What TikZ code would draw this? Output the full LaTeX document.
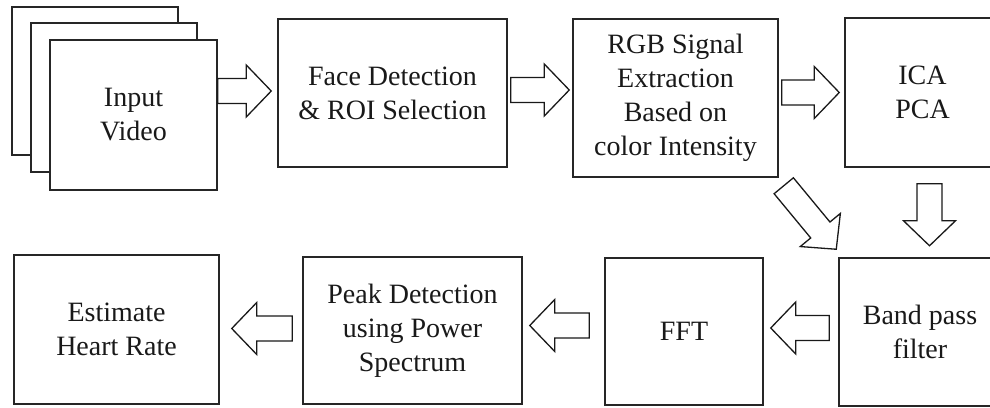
\documentclass[tikz,border=0pt]{standalone}
\usepackage{fontspec}
\setmainfont{Liberation Serif}
\usetikzlibrary{calc}
\tikzset{
  box/.style={draw=black!85, line width=1.5pt, fill=white, inner sep=0pt, align=center,
    font=\fontsize{28}{34}\selectfont, text=black!90},
  barrow/.style={draw=black!90, line width=1.3pt, fill=white, line join=miter},
}
\newcommand\blockarr[2]{%
  \coordinate (ba-s) at #1;
  \coordinate (ba-t) at #2;
  \coordinate (ba-h) at ($(ba-t)!25pt!(ba-s)$);
  \draw[barrow] ($(ba-s)!12.5pt!90:(ba-t)$) -- ($(ba-h)!12.5pt!-90:(ba-s)$)
    -- ($(ba-h)!26pt!-90:(ba-s)$) -- (ba-t) -- ($(ba-h)!26pt!90:(ba-s)$)
    -- ($(ba-h)!12.5pt!90:(ba-s)$) -- ($(ba-s)!12.5pt!-90:(ba-t)$) -- cycle;
}
\begin{document}
\begin{tikzpicture}[x=1pt,y=-1pt]
\useasboundingbox (0,0) rectangle (990,407);
\clip (0,0) rectangle (990,407);
% input video stack
\node[box, minimum width=166pt, minimum height=148pt] (in3) at (95,81) {};
\node[box, minimum width=166pt, minimum height=149pt] (in2) at (114,97.5) {};
\node[box, minimum width=167pt, minimum height=150pt] (in1) at (133.5,115) {Input\\Video};
% top row
\node[box, minimum width=229pt, minimum height=148pt] (face) at (392.5,93) {Face Detection\\\& ROI Selection};
\node[box, minimum width=205pt, minimum height=158pt] (rgb) at (675.5,98) {RGB Signal\\Extraction\\Based on\\color Intensity};
\node[box, minimum width=155pt, minimum height=149pt] (ica) at (922.5,92.5) {ICA\\PCA};
% bottom row
\node[box, minimum width=162pt, minimum height=148pt] (band) at (920,332) {Band pass\\filter};
\node[box, minimum width=158pt, minimum height=147pt] (fft) at (684,331.5) {FFT};
\node[box, minimum width=219pt, minimum height=147pt] (peak) at (412.5,330.5) {Peak Detection\\using Power\\Spectrum};
\node[box, minimum width=205pt, minimum height=149pt] (est) at (116.5,329.5) {Estimate\\Heart Rate};
% block arrows
\blockarr{($(in1.east |- face.west)+(0,-2)$)}{($(face.west)+(-6,-2)$)}
\blockarr{($(face.east)+(3,-3)$)}{($(rgb.west |- face.east)+(-3,-3)$)}
\blockarr{($(rgb.east |- ica.west)+(3,0)$)}{($(ica.west)+(-5,0)$)}
\blockarr{($(ica.south)+(7,16)$)}{($(ica.south)+(7,78)$)}
\blockarr{($(rgb.south east)+(5,8)$)}{($(band.north west)+(-2,-8)$)}
\blockarr{($(band.west)+(-9,-4)$)}{($(band.west -| fft.east)+(7,-4)$)}
\blockarr{($(fft.west)+(-15,-6)$)}{($(fft.west -| peak.east)+(7,-6)$)}
\blockarr{($(peak.west)+(-10,-2)$)}{($(peak.west -| est.east)+(12,-2)$)}
\end{tikzpicture}
\end{document}
